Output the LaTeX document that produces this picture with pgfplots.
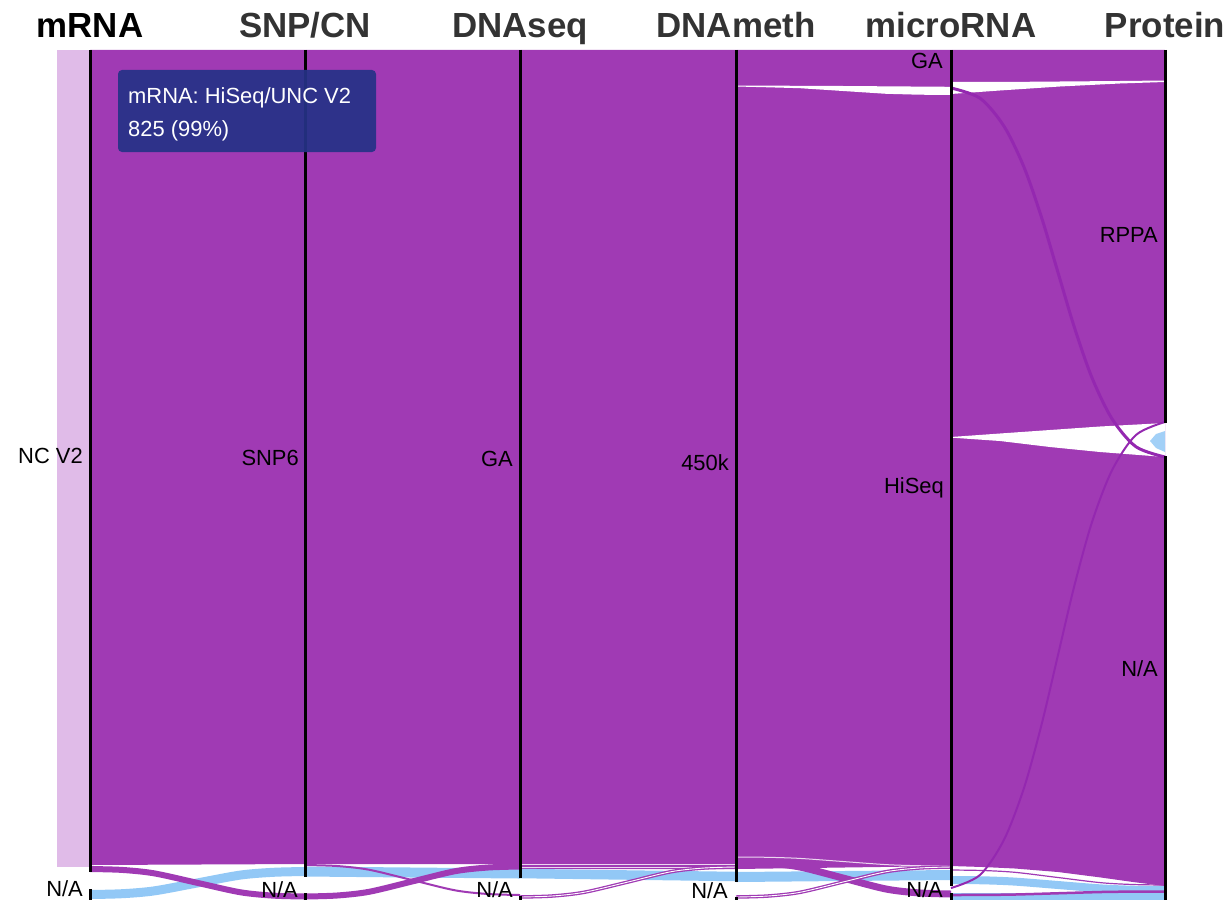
\documentclass[border=0pt]{standalone}
\usepackage{pgfplots}
\pgfplotsset{compat=1.18}
\usepackage{fontspec}
\setmainfont{Liberation Sans}
\definecolor{mp}{RGB}{160,58,180}
\definecolor{lp}{RGB}{224,187,232}
\definecolor{lb}{RGB}{146,200,246}
\definecolor{dp}{RGB}{148,40,176}
\definecolor{tt}{RGB}{37,50,135}
\definecolor{hd}{RGB}{51,51,51}
\begin{document}
\begin{tikzpicture}
\begin{axis}[width=1230bp,height=902bp,scale only axis,xmin=0,xmax=1230,ymin=0,ymax=902,
  y dir=reverse,hide axis,clip=false,enlargelimits=false]
\addplot[draw=none] coordinates {(0,0) (1230,902)};
% left highlighted bar
\addplot[fill=lp,draw=none] coordinates {(57,50) (90,50) (90,867) (57,867)};
% main purple body
\addplot[fill=mp,draw=none] coordinates {(90,50) (1165,50) (1165,886) (1133,882) (1101,877.5) (1058,872) (1015,868.5) (983,867) (951,866) (736,869) (520,869) (520,864) (305,864) (90,865)};
% white gaps
\addplot[fill=white,draw=none] coordinates {(736,85.5) (843,86) (951,86.8) (951,95) (919,94.7) (886,93.8) (843,91) (800,88.2) (768,87.3) (736,86.5)};
\addplot[fill=white,draw=none] coordinates {(951,82) (1000,82) (1060,81.5) (1120,81) (1165,80.5) (1165,82) (1120,83.5) (1060,86.5) (1000,90.5) (951,94)};
\addplot[fill=white,draw=none] coordinates {(951,437) (1000,433.5) (1050,430) (1100,426.5) (1165,423) (1165,457) (1100,452) (1050,447) (1000,441) (951,437.6)};
\addplot[white,line width=0.8bp,opacity=0.8] coordinates {(520,864.6) (736,864.6)};
\addplot[white,line width=0.8bp,opacity=0.8] coordinates {(520,866.9) (736,866.9)};
\addplot[white,line width=1bp,opacity=0.8,smooth] coordinates {(736,857) (768,857.3) (800,858.4) (843,861.5) (886,864.6) (919,865.7) (951,866)};
% light blue ribbons (mRNA N/A)
\addplot[lb,line width=9bp,smooth] coordinates {(90,894.5) (122,893.7) (154,890.9) (197,883) (240,875.1) (273,872.3) (305,871.5)};
\addplot[lb,line width=10bp] coordinates {(305,871.5) (412,872.5) (520,873.5)};
\addplot[lb,line width=9.5bp] coordinates {(520,873.5) (628,875) (736,876.5)};
\addplot[lb,line width=10bp] coordinates {(736,877) (843,876) (951,875)};
\addplot[lb,line width=8bp,smooth] coordinates {(951,880) (983,880.3) (1015,881.6) (1058,885) (1101,888.4) (1133,889.7) (1165,890)};
\addplot[lb,line width=7bp] coordinates {(951,896.5) (1165,896.5)};
% purple ribbons at the bottom
\addplot[mp,line width=6bp,smooth] coordinates {(90,869) (122,869.9) (154,873.3) (197,882.75) (240,892.2) (273,895.6) (305,896.5)};
\addplot[mp,line width=6bp,smooth] coordinates {(305,896.5) (337,895.5) (369,891.8) (412,881.5) (455,871.2) (488,867.5) (520,866.5)};
\addplot[mp,line width=2bp,smooth] coordinates {(305,865) (337,866) (369,869.7) (412,880) (455,890.3) (488,894) (520,895)};
\addplot[mp,line width=3.5bp,smooth] coordinates {(520,897) (552,896) (584,892.3) (628,882) (671,871.7) (704,868) (736,867)};
\addplot[white,line width=0.9bp,smooth] coordinates {(520,897) (552,896) (584,892.3) (628,882) (671,871.7) (704,868) (736,867)};
\addplot[mp,line width=7bp,smooth] coordinates {(736,862) (768,863.1) (800,867) (843,878) (886,889) (919,892.9) (951,894)};
\addplot[mp,line width=3.5bp,smooth] coordinates {(736,897) (768,896) (800,892.3) (843,882) (886,871.7) (919,868) (951,867)};
\addplot[white,line width=0.9bp,smooth] coordinates {(736,897) (768,896) (800,892.3) (843,882) (886,871.7) (919,868) (951,867)};
\addplot[mp,line width=1.2bp,smooth] coordinates {(951,870) (983,870.5) (1015,872.3) (1058,877.5) (1101,882.7) (1133,884.5) (1165,885)};
\addplot[mp,line width=2.5bp,smooth] coordinates {(951,895) (983,894.9) (1015,894.5) (1058,893.25) (1101,892) (1133,891.6) (1165,891.5)};
% thin crossing ribbons microRNA -> Protein
\addplot[lb,opacity=0.85,fill=lb,draw=none] coordinates {(1150,441) (1156,434) (1165,431) (1165,452) (1156,448)};
\addplot[dp,line width=3bp,smooth] coordinates {(951,88) (980.1,98.3) (1004.1,126.4) (1024.2,167.7) (1041.7,217.9) (1058,272.5) (1074.3,327.1) (1091.8,377.3) (1111.9,418.6) (1135.9,446.7) (1165,457)};
\addplot[dp,line width=2bp,smooth] coordinates {(951,888) (980.1,874.9) (1004.1,839.5) (1024.2,787.3) (1041.7,724) (1058,655) (1074.3,586) (1091.8,522.7) (1111.9,470.5) (1135.9,435) (1165,422)};
% axis lines
\addplot[black,line width=3bp] coordinates {(90,50) (90,872)};
\addplot[black,line width=3bp] coordinates {(90,889) (90,900)};
\addplot[black,line width=3bp] coordinates {(305,50) (305,877)};
\addplot[black,line width=3bp] coordinates {(305,893) (305,900)};
\addplot[black,line width=3bp] coordinates {(520,50) (520,878)};
\addplot[black,line width=3bp] coordinates {(520,896) (520,900)};
\addplot[black,line width=3bp] coordinates {(736,50) (736,882)};
\addplot[black,line width=3bp] coordinates {(736,897) (736,900)};
\addplot[black,line width=3bp] coordinates {(951,50) (951,886)};
\addplot[black,line width=3bp] coordinates {(951,893) (951,900)};
\addplot[black,line width=3bp] coordinates {(1165,50) (1165,423)};
\addplot[black,line width=3bp] coordinates {(1165,456) (1165,900)};
% headers
\node[anchor=base,font=\fontsize{35}{40}\selectfont\bfseries,text=black] at (axis cs:90,38) {mRNA};
\node[anchor=base,font=\fontsize{35}{40}\selectfont\bfseries,text=hd] at (axis cs:305,38) {SNP/CN};
\node[anchor=base,font=\fontsize{35}{40}\selectfont\bfseries,text=hd] at (axis cs:520,38) {DNAseq};
\node[anchor=base,font=\fontsize{35}{40}\selectfont\bfseries,text=hd] at (axis cs:736,38) {DNAmeth};
\node[anchor=base,font=\fontsize{35}{40}\selectfont\bfseries,text=hd] at (axis cs:951,38) {microRNA};
\node[anchor=base,font=\fontsize{35}{40}\selectfont\bfseries,text=hd] at (axis cs:1165,38) {Protein};
% category labels
\tikzset{lab/.style={anchor=base east,inner sep=0pt,font=\fontsize{22}{26}\selectfont,text=black}}
\node[lab] at (axis cs:83,463) {NC V2};
\node[lab] at (axis cs:299,465) {SNP6};
\node[lab] at (axis cs:513,466) {GA};
\node[lab] at (axis cs:729,470) {450k};
\node[lab] at (axis cs:944,493) {HiSeq};
\node[lab] at (axis cs:943,69) {GA};
\node[lab] at (axis cs:1158,242) {RPPA};
\node[lab] at (axis cs:1158,676) {N/A};
\node[lab] at (axis cs:83,896) {N/A};
\node[lab] at (axis cs:298,897) {N/A};
\node[lab] at (axis cs:513,897) {N/A};
\node[lab] at (axis cs:728,898) {N/A};
\node[lab] at (axis cs:943,897) {N/A};
% tooltip
\fill[tt,opacity=0.92,rounded corners=4bp] (axis cs:118,70) rectangle (axis cs:376,152);
\node[anchor=base west,inner sep=0pt,text=white,font=\fontsize{22}{26}\selectfont] at (axis cs:128,104) {mRNA: HiSeq/UNC V2};
\node[anchor=base west,inner sep=0pt,text=white,font=\fontsize{22}{26}\selectfont] at (axis cs:128,136) {825 (99\%)};
\end{axis}
\end{tikzpicture}
\end{document}
